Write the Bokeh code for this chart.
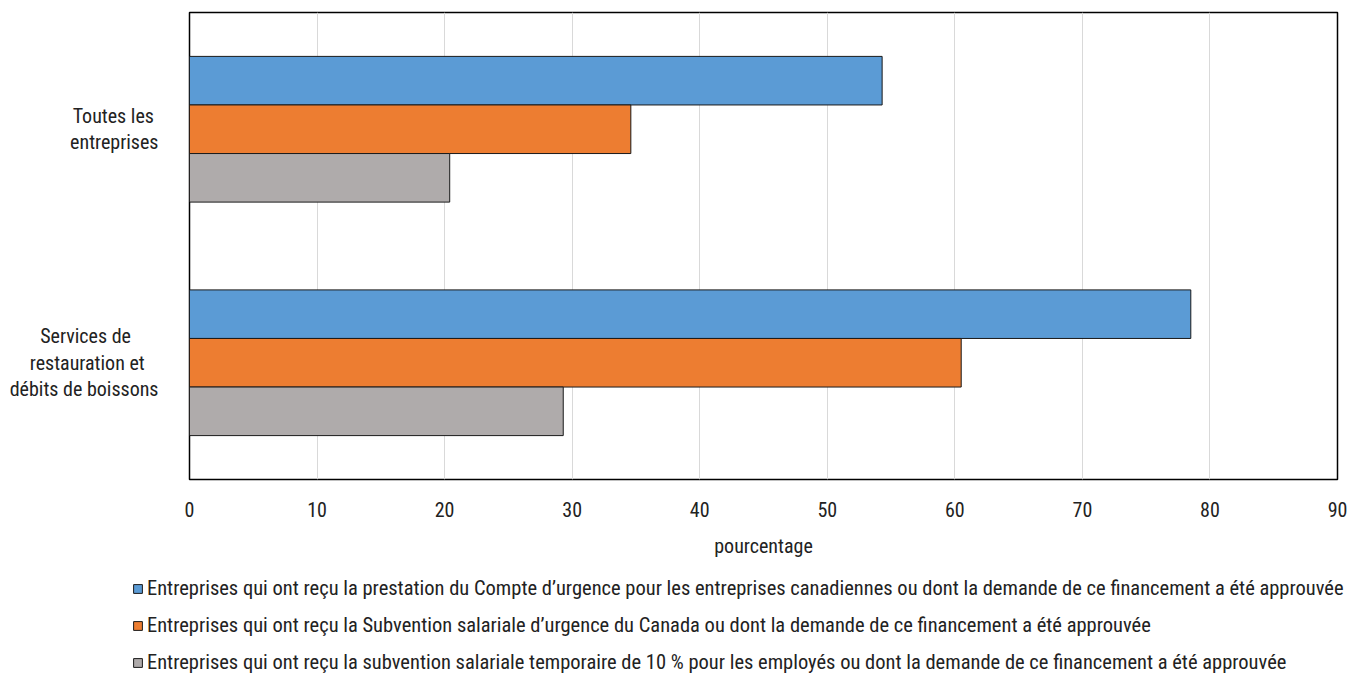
from bokeh.plotting import figure
from bokeh.models import ColumnDataSource, Range1d, FixedTicker, Legend, LegendItem
from bokeh.transform import dodge
from bokeh.embed import file_html
from bokeh.resources import INLINE

categories = ["Toutes les\nentreprises", "Services de\nrestauration et\ndébits de boissons"]
ceba = [54.3, 78.5]
cews = [34.6, 60.5]
tws = [20.4, 29.3]
series_names = [
    "Entreprises qui ont reçu la prestation du Compte d’urgence pour les entreprises canadiennes ou dont la demande de ce financement a été approuvée",
    "Entreprises qui ont reçu la Subvention salariale d’urgence du Canada ou dont la demande de ce financement a été approuvée",
    "Entreprises qui ont reçu la subvention salariale temporaire de 10 % pour les employés ou dont la demande de ce financement a été approuvée",
]
colors = ["#5B9BD5", "#ED7D31", "#AFABAB"]
x_ticks = [0, 10, 20, 30, 40, 50, 60, 70, 80, 90]
x_title = "pourcentage"

FONT = "Liberation Sans Narrow, Roboto Condensed, DejaVu Sans Condensed, sans-serif"
FS = "20px"
TXT = "#222222"
NB = "\u00a0"

# categories from top to bottom -> numeric positions
ypos = [len(categories) - 1 - i for i in range(len(categories))]
src = ColumnDataSource(dict(y=ypos, cat=categories, ceba=ceba, cews=cews, tws=tws))

p = figure(width=1352, height=560,
           x_range=Range1d(0, 90), y_range=Range1d(-0.5, len(categories) - 0.5),
           output_backend="svg", toolbar_location=None,
           min_border_left=189, min_border_right=15, min_border_top=12, min_border_bottom=79)

bw = 0.208
cols = ["ceba", "cews", "tws"]
offs = [bw, 0.0, -bw]
for c, o, col in zip(cols, offs, colors):
    p.hbar(y=dodge("y", o), right=c, left=0, height=bw,
           source=src, fill_color=col, line_color="#1a1a1a", line_width=1)

p.outline_line_color = "#000000"
p.outline_line_width = 1.5
p.ygrid.grid_line_color = None
p.xgrid.grid_line_color = "#d9d9d9"
p.xgrid.grid_line_width = 1

p.xaxis.ticker = FixedTicker(ticks=x_ticks)
p.xaxis.axis_line_color = None
p.xaxis.major_tick_line_color = None
p.xaxis.minor_tick_line_color = None
p.xaxis.major_tick_out = 0
p.xaxis.major_label_standoff = 22
p.xaxis.major_label_text_font = FONT
p.xaxis.major_label_text_font_size = FS
p.xaxis.major_label_text_color = TXT
p.xaxis.axis_label = x_title
p.xaxis.axis_label_text_font = FONT
p.xaxis.axis_label_text_font_size = FS
p.xaxis.axis_label_text_font_style = "normal"
p.xaxis.axis_label_text_color = TXT
p.xaxis.axis_label_standoff = 14

# category labels: shorter lines padded with no-break spaces so the lines look centred
pads = [[1, 0], [6, 3, 0]]
overrides = {}
for yv, cat, pad in zip(ypos, categories, pads):
    lines = cat.split("\n")
    overrides[yv] = "\n".join(l + NB * n for l, n in zip(lines, pad))

p.yaxis.ticker = FixedTicker(ticks=ypos)
p.yaxis.major_label_overrides = overrides
p.yaxis.axis_line_color = None
p.yaxis.major_tick_line_color = None
p.yaxis.minor_tick_line_color = None
p.yaxis.major_tick_out = 0
p.yaxis.major_label_standoff = 31
p.yaxis.major_label_text_font = FONT
p.yaxis.major_label_text_font_size = FS
p.yaxis.major_label_text_line_height = 1.1
p.yaxis.major_label_text_color = TXT

# legend strip (separate root so its frame is not aligned with the chart's frame)
lg = figure(width=1352, height=115, x_range=Range1d(0, 1), y_range=Range1d(0, 1),
            output_backend="svg", toolbar_location=None,
            min_border_left=0, min_border_right=0, min_border_top=0, min_border_bottom=0)
lg.axis.visible = False
lg.grid.visible = False
lg.outline_line_color = None
items = []
for name, col in zip(series_names, colors):
    # swatch source for the legend only; lies outside the strip's visible range
    r = lg.hbar(y=[-1], right=[0.5], left=0, height=0.1,
                fill_color=col, line_color="#1a1a1a", line_width=1)
    items.append(LegendItem(label=name, renderers=[r]))
legend = Legend(items=items, orientation="vertical", location=(132, 1),
                glyph_width=11, glyph_height=11, label_height=24, label_standoff=4,
                spacing=13, padding=0, margin=0, border_line_color=None,
                background_fill_alpha=0,
                label_text_font=FONT, label_text_font_size="20.5px", label_text_color=TXT)
lg.add_layout(legend)

open("out.html", "w").write(file_html([p, lg], INLINE))
